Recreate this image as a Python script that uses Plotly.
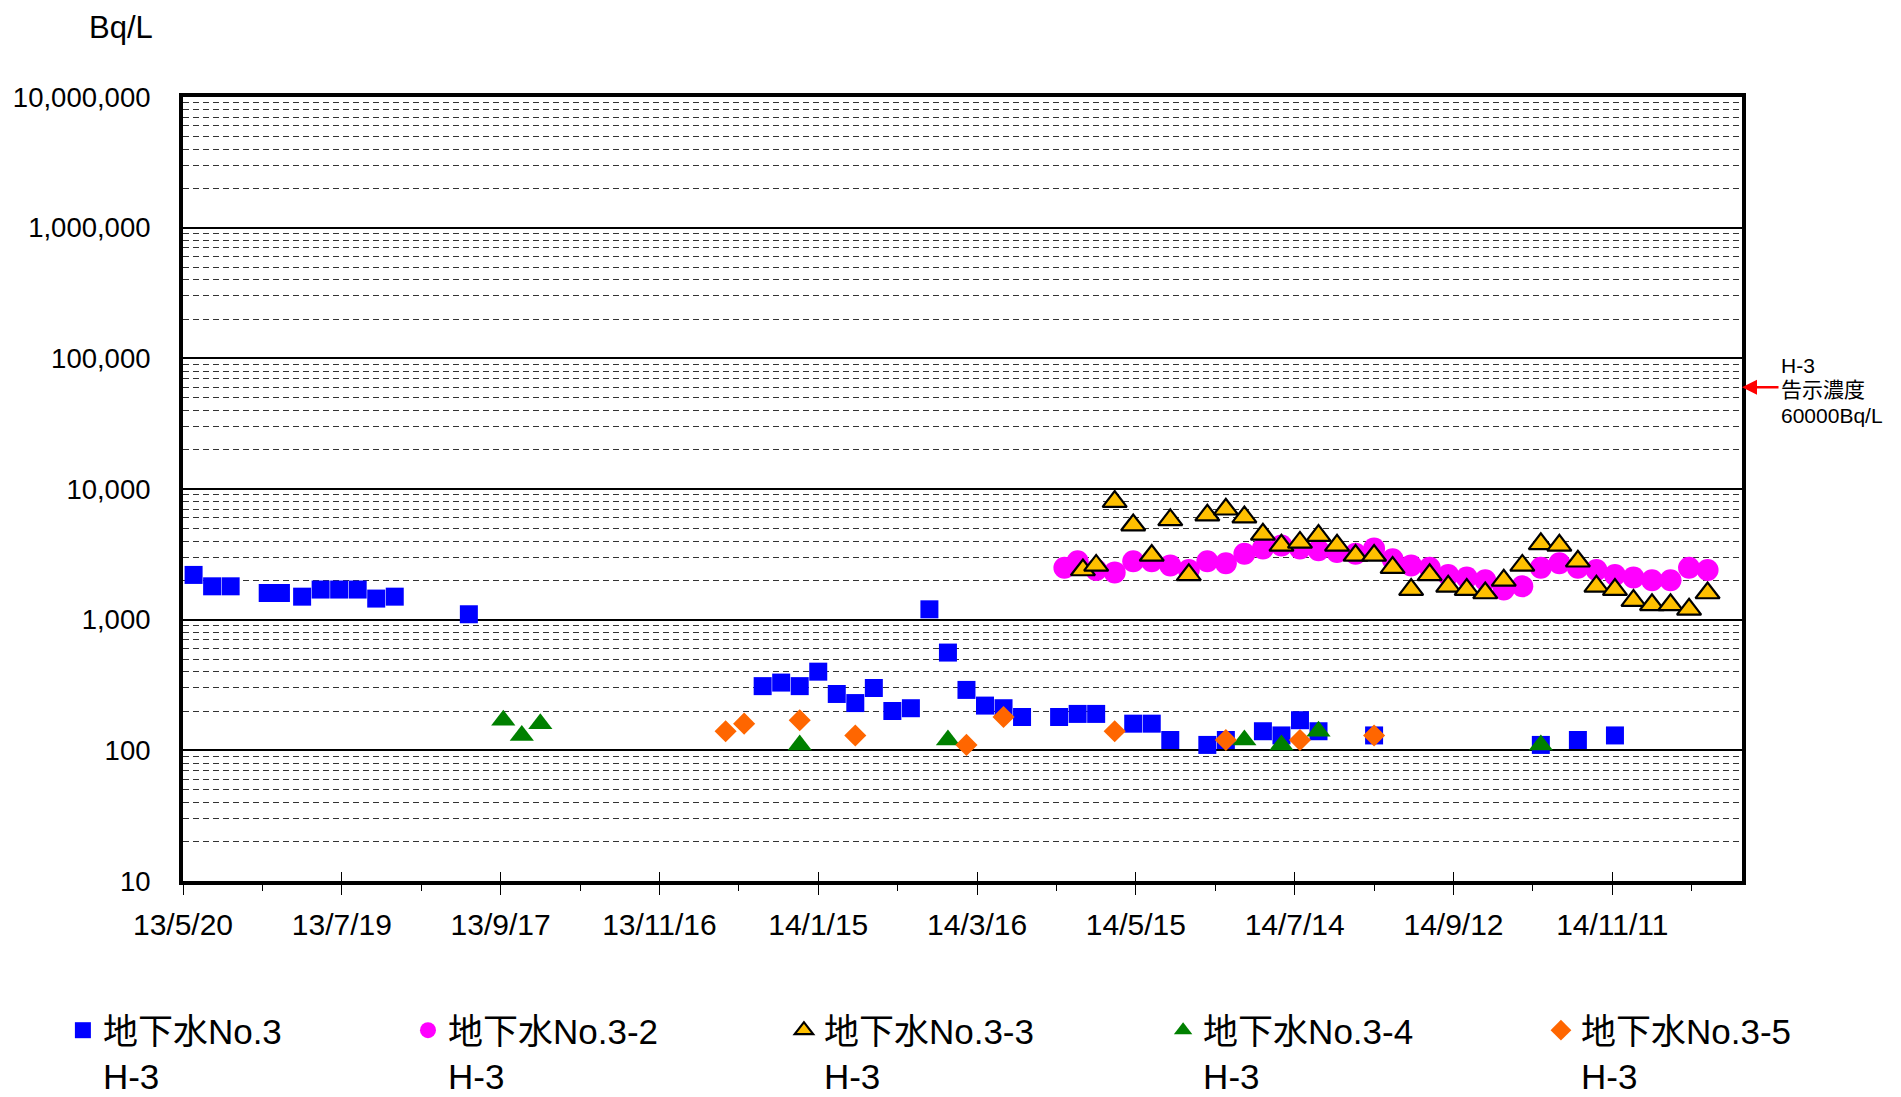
import math
import plotly.graph_objects as go

# ---------------- data ----------------
no3_dates = ["2013-05-24", "2013-05-31", "2013-06-07", "2013-06-21", "2013-06-26", "2013-07-04",
             "2013-07-11", "2013-07-18", "2013-07-25", "2013-08-01", "2013-08-08", "2013-09-05",
             "2013-12-25", "2014-01-01", "2014-01-08", "2014-01-15", "2014-01-22", "2014-01-29",
             "2014-02-05", "2014-02-12", "2014-02-19", "2014-02-26", "2014-03-05", "2014-03-12",
             "2014-03-19", "2014-03-26", "2014-04-02", "2014-04-16", "2014-04-23", "2014-04-30",
             "2014-05-14", "2014-05-21", "2014-05-28", "2014-06-11", "2014-06-18", "2014-07-02",
             "2014-07-09", "2014-07-16", "2014-07-23", "2014-08-13", "2014-10-15", "2014-10-29",
             "2014-11-12"]
no3_vals = [2200, 1800, 1800, 1600, 1600, 1500, 1700, 1700, 1700, 1450, 1500, 1100,
            310, 330, 310, 400, 270, 230, 300, 200, 210, 1200, 560, 290, 220, 210, 180,
            180, 190, 190, 160, 160, 120, 110, 120, 140, 130, 170, 140, 130,
            110, 120, 130]

no3_2_dates = ["2014-04-18", "2014-04-23", "2014-04-30", "2014-05-07", "2014-05-14", "2014-05-21",
               "2014-05-28", "2014-06-04", "2014-06-11", "2014-06-18", "2014-06-25", "2014-07-02",
               "2014-07-09", "2014-07-16", "2014-07-23", "2014-07-30", "2014-08-06", "2014-08-13",
               "2014-08-20", "2014-08-27", "2014-09-03", "2014-09-10", "2014-09-17", "2014-09-24",
               "2014-10-01", "2014-10-08", "2014-10-15", "2014-10-22", "2014-10-29", "2014-11-05",
               "2014-11-12", "2014-11-19", "2014-11-26", "2014-12-03", "2014-12-10", "2014-12-17"]
no3_2_vals = [2500, 2800, 2400, 2300, 2800, 2800, 2600, 2400, 2800, 2700, 3200, 3500,
              3700, 3500, 3400, 3300, 3200, 3500, 2900, 2600, 2500, 2200, 2100, 2000,
              1700, 1800, 2500, 2700, 2500, 2400, 2200, 2100, 2000, 2000, 2500, 2400]

no3_3_dates = ["2014-04-25", "2014-04-30", "2014-05-07", "2014-05-14", "2014-05-21", "2014-05-28",
               "2014-06-04", "2014-06-11", "2014-06-18", "2014-06-25", "2014-07-02", "2014-07-09",
               "2014-07-16", "2014-07-23", "2014-07-30", "2014-08-06", "2014-08-13", "2014-08-20",
               "2014-08-27", "2014-09-03", "2014-09-10", "2014-09-17", "2014-09-24", "2014-10-01",
               "2014-10-08", "2014-10-15", "2014-10-22", "2014-10-29", "2014-11-05", "2014-11-12",
               "2014-11-19", "2014-11-26", "2014-12-03", "2014-12-10", "2014-12-17"]
no3_3_vals = [2400, 2600, 8000, 5300, 3100, 5800, 2200, 6300, 7000, 6100, 4500, 3700,
              3900, 4400, 3700, 3100, 3100, 2500, 1700, 2200, 1800, 1700, 1600, 2000,
              2600, 3800, 3700, 2800, 1800, 1700, 1400, 1300, 1300, 1200, 1600]

no3_4_dates = ["2013-09-18", "2013-09-25", "2013-10-02", "2014-01-08", "2014-03-05",
               "2014-06-25", "2014-07-09", "2014-07-23", "2014-10-15"]
no3_4_vals = [170, 130, 160, 110, 120, 120, 110, 140, 110]

no3_5_dates = ["2013-12-11", "2013-12-18", "2014-01-08", "2014-01-29", "2014-03-12",
               "2014-03-26", "2014-05-07", "2014-06-18", "2014-07-16", "2014-08-13"]
no3_5_vals = [140, 160, 170, 130, 110, 180, 140, 120, 120, 130]

series_names = ["地下水No.3<br>H-3", "地下水No.3-2<br>H-3", "地下水No.3-3<br>H-3",
                "地下水No.3-4<br>H-3", "地下水No.3-5<br>H-3"]

y_tickvals = [10, 100, 1000, 10000, 100000, 1000000, 10000000]
y_ticktext = ["10", "100", "1,000", "10,000", "100,000", "1,000,000", "10,000,000"]

x_start, x_end = "2013-05-20", "2014-12-30"
limit_value = 60000
limit_lines = ["H-3", "告示濃度", "60000Bq/L"]
y_unit = "Bq/L"

DAY_MS = 86400000
FONT = "Liberation Sans, Arial, Noto Sans CJK JP, sans-serif"

# page body has an 8px default margin -> figure slightly smaller than the window
W, H = 1893, 1089

# ---------------- figure ----------------
fig = go.Figure()

legend_ids = ["legend", "legend2", "legend3", "legend4", "legend5"]
legend_x = [0.0290, 0.2113, 0.4099, 0.6102, 0.8098]

fig.add_trace(go.Scatter(x=no3_dates, y=no3_vals, name=series_names[0], mode="markers",
                         legend=legend_ids[0],
                         marker=dict(symbol="square", size=18, color="#0000FF")))
fig.add_trace(go.Scatter(x=no3_2_dates, y=no3_2_vals, name=series_names[1], mode="markers",
                         legend=legend_ids[1],
                         marker=dict(symbol="circle", size=22, color="#FF00FF")))
fig.add_trace(go.Scatter(x=no3_3_dates, y=no3_3_vals, name=series_names[2], mode="markers",
                         legend=legend_ids[2],
                         marker=dict(symbol="triangle-up", size=21, color="#FFC000",
                                     line=dict(color="black", width=2.2))))
fig.add_trace(go.Scatter(x=no3_4_dates, y=no3_4_vals, name=series_names[3], mode="markers",
                         legend=legend_ids[3],
                         marker=dict(symbol="triangle-up", size=21, color="#008000")))
fig.add_trace(go.Scatter(x=no3_5_dates, y=no3_5_vals, name=series_names[4], mode="markers",
                         legend=legend_ids[4],
                         marker=dict(symbol="diamond", size=17, color="#FF6600")))

# helper (invisible) trace so that the inner-tick overlay axis gets drawn
fig.add_trace(go.Scatter(x=no3_dates, y=no3_vals, xaxis="x2", mode="markers",
                         marker=dict(opacity=0), showlegend=False, hoverinfo="skip"))

legend_common = dict(
    orientation="h", xref="container", yref="container",
    xanchor="left", y=0.0882, yanchor="top", valign="top",
    font=dict(size=35, family=FONT), bgcolor="rgba(0,0,0,0)",
)
legend_layout = {lid: dict(legend_common, x=lx) for lid, lx in zip(legend_ids, legend_x)}

fig.update_layout(
    width=W, height=H,
    margin=dict(l=175, r=159, t=89, b=216, autoexpand=False),
    paper_bgcolor="white", plot_bgcolor="white",
    font=dict(family=FONT, color="black", size=28),
    xaxis=dict(
        type="date", range=[x_start, x_end],
        tick0=x_start, dtick=60 * DAY_MS, tickformat="%y/%-m/%-d",
        ticks="outside", ticklen=10, tickwidth=1, tickcolor="black",
        ticklabelstandoff=4,
        showgrid=False, zeroline=False,
        showline=True, linewidth=4, linecolor="black", mirror=True,
        tickfont=dict(size=30, family=FONT),
        minor=dict(tick0=x_start, dtick=30 * DAY_MS, ticks="outside", ticklen=6,
                   tickwidth=1, tickcolor="black", showgrid=False),
    ),
    xaxis2=dict(
        type="date", range=[x_start, x_end], overlaying="x", anchor="y", side="bottom",
        tick0=x_start, dtick=60 * DAY_MS, ticks="inside", ticklen=9, tickwidth=1,
        tickcolor="black", showticklabels=False, showgrid=False, showline=False,
        zeroline=False,
    ),
    yaxis=dict(
        type="log", range=[1, 7],
        tickvals=y_tickvals, ticktext=y_ticktext,
        ticks="", ticklabelstandoff=23,
        showgrid=True, gridcolor="black", gridwidth=2,
        zeroline=False,
        showline=True, linewidth=4, linecolor="black", mirror=True,
        tickfont=dict(size=27.5, family=FONT),
        minor=dict(dtick="D1", showgrid=True, gridcolor="#333333", gridwidth=1,
                   griddash="6px,4px", ticks=""),
    ),
    showlegend=True,
    **legend_layout,
)

fig.add_annotation(
    xref="paper", yref="y", x=1, y=math.log10(limit_value), ax=38, ay=0,
    text="", showarrow=True, arrowhead=2, arrowsize=1.2, arrowwidth=2.5,
    arrowcolor="#FF0000",
)
for line_text, dy in zip(limit_lines, [22, -2, -28]):
    fig.add_annotation(
        xref="paper", yref="y", x=1, y=math.log10(limit_value), xshift=37, yshift=dy,
        xanchor="left", yanchor="middle", align="left", showarrow=False,
        text=line_text, font=dict(size=21, family=FONT),
    )
fig.add_annotation(
    xref="paper", yref="paper", x=0, y=1, xshift=-28, yshift=70,
    xanchor="right", yanchor="middle", showarrow=False,
    text=y_unit, font=dict(size=31, family=FONT),
)

fig.write_html("out.html")
